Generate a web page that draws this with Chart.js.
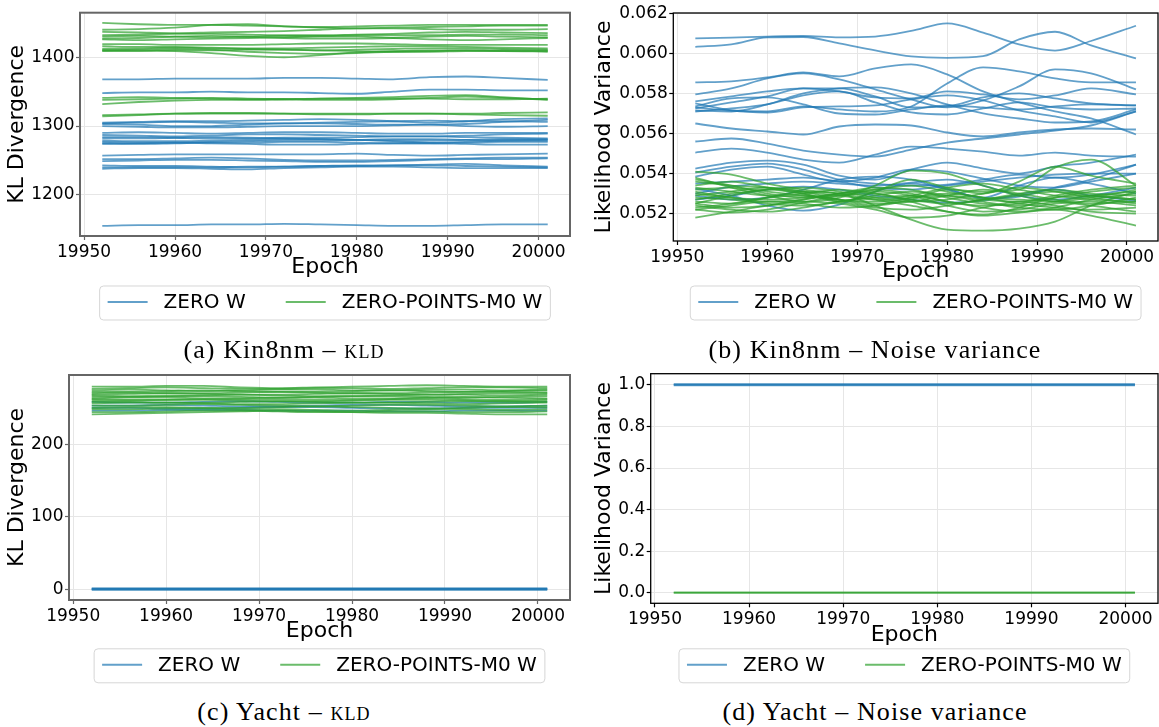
<!DOCTYPE html>
<html>
<head>
<meta charset="utf-8">
<script src="https://cdn.jsdelivr.net/npm/chart.js@4.4.1/dist/chart.umd.min.js"></script>
<style>
  html, body { margin: 0; padding: 0; background: #fff; }
  #fig { position: relative; width: 1159px; height: 727px; overflow: hidden; }
  canvas { position: absolute; }
  .cap { position: absolute; width: 560px; text-align: center; white-space: nowrap;
         font-family: "Liberation Serif", serif; font-size: 26px; letter-spacing: 1.1px;
         line-height: 27px; color: #000; }
  .sc { font-variant: small-caps; }
</style>
</head>
<body>
<div id="fig">
  <canvas id="kinKld" width="580" height="330" style="left:0px;top:0px"></canvas>
  <canvas id="kinVar" width="579" height="330" style="left:580px;top:0px"></canvas>
  <canvas id="yachtKld" width="580" height="330" style="left:0px;top:362px"></canvas>
  <canvas id="yachtVar" width="579" height="330" style="left:580px;top:362px"></canvas>
  <div class="cap" style="left:4px;top:336px">(a) Kin8nm – <span class="sc">kld</span></div>
  <div class="cap" style="left:595px;top:336px">(b) Kin8nm – Noise variance</div>
  <div class="cap" style="left:4px;top:698px">(c) Yacht – <span class="sc">kld</span></div>
  <div class="cap" style="left:595px;top:698px">(d) Yacht – Noise variance</div>
</div>
<script>
// epochs sampled along each run, and the two endpoints for runs that stay flat
const epochs = [19952, 19956, 19960, 19964, 19968, 19972, 19976, 19980, 19984, 19988, 19992, 19996, 20001];
const flatEpochs = [19952, 20001];

const seriesNames = ['ZERO W', 'ZERO-POINTS-M0 W'];

// tick labels
const epochTicks = [19950, 19960, 19970, 19980, 19990, 20000];
const kinKldTicks = [1200, 1300, 1400];
const kinVarTicks = [0.052, 0.054, 0.056, 0.058, 0.060, 0.062];
const yachtKldTicks = [0, 100, 200];
const yachtVarTicks = [0, 0.2, 0.4, 0.6, 0.8, 1.0];

// Kin8nm, KL divergence
const kinKldZero = [
  [1368, 1368, 1369, 1369, 1369, 1370, 1370, 1369, 1368, 1371, 1372, 1370, 1367],
  [1348, 1349, 1349, 1350, 1349, 1349, 1348, 1347, 1350, 1353, 1353, 1352, 1352],
  [1305, 1306, 1307, 1307, 1308, 1309, 1310, 1309, 1307, 1305, 1307, 1310, 1311],
  [1303, 1302, 1300, 1300, 1302, 1304, 1304, 1303, 1302, 1302, 1303, 1306, 1309],
  [1304, 1305, 1306, 1305, 1304, 1304, 1305, 1306, 1307, 1308, 1307, 1307, 1306],
  [1300, 1299, 1298, 1298, 1299, 1300, 1300, 1300, 1301, 1302, 1300, 1299, 1300],
  [1290, 1291, 1290, 1289, 1290, 1291, 1291, 1290, 1289, 1289, 1290, 1290, 1290],
  [1287, 1286, 1285, 1286, 1288, 1288, 1287, 1286, 1285, 1285, 1286, 1288, 1289],
  [1284, 1284, 1283, 1282, 1282, 1283, 1283, 1284, 1285, 1285, 1284, 1283, 1282],
  [1282, 1282, 1283, 1284, 1283, 1282, 1281, 1280, 1279, 1279, 1280, 1281, 1281],
  [1279, 1278, 1278, 1279, 1280, 1281, 1281, 1280, 1278, 1276, 1277, 1279, 1280],
  [1277, 1276, 1276, 1277, 1278, 1279, 1279, 1280, 1281, 1281, 1280, 1279, 1279],
  [1275, 1274, 1275, 1276, 1276, 1277, 1277, 1276, 1275, 1275, 1276, 1277, 1277],
  [1274, 1275, 1276, 1275, 1274, 1273, 1273, 1274, 1275, 1275, 1274, 1273, 1273],
  [1257, 1258, 1259, 1259, 1259, 1259, 1259, 1260, 1258, 1257, 1258, 1259, 1260],
  [1252, 1252, 1253, 1254, 1253, 1251, 1250, 1250, 1251, 1252, 1253, 1254, 1254],
  [1249, 1250, 1251, 1251, 1250, 1249, 1248, 1248, 1249, 1251, 1252, 1252, 1253],
  [1243, 1242, 1242, 1241, 1240, 1241, 1242, 1242, 1243, 1244, 1245, 1243, 1241],
  [1240, 1240, 1240, 1240, 1241, 1241, 1242, 1243, 1243, 1243, 1242, 1241, 1240],
  [1238, 1239, 1239, 1238, 1237, 1239, 1240, 1241, 1241, 1240, 1239, 1239, 1239],
  [1155, 1156, 1156, 1157, 1157, 1158, 1157, 1156, 1155, 1155, 1156, 1157, 1157]
];
const kinKldPoints = [
  [1450, 1448, 1447, 1447, 1446, 1445, 1444, 1445, 1446, 1447, 1447, 1447, 1447],
  [1440, 1441, 1443, 1447, 1448, 1445, 1443, 1442, 1443, 1444, 1445, 1446, 1446],
  [1437, 1436, 1435, 1436, 1437, 1438, 1440, 1442, 1442, 1441, 1440, 1440, 1441],
  [1432, 1433, 1434, 1434, 1433, 1432, 1432, 1433, 1434, 1436, 1437, 1436, 1435],
  [1430, 1431, 1430, 1429, 1430, 1431, 1431, 1432, 1432, 1432, 1433, 1433, 1432],
  [1427, 1428, 1430, 1431, 1430, 1428, 1427, 1427, 1428, 1430, 1431, 1430, 1429],
  [1426, 1425, 1426, 1427, 1428, 1429, 1430, 1430, 1428, 1426, 1425, 1426, 1428],
  [1419, 1419, 1418, 1418, 1418, 1419, 1420, 1420, 1419, 1418, 1418, 1418, 1418],
  [1416, 1415, 1415, 1414, 1413, 1413, 1414, 1415, 1416, 1416, 1415, 1414, 1413],
  [1412, 1413, 1414, 1413, 1412, 1411, 1410, 1411, 1412, 1413, 1413, 1412, 1411],
  [1410, 1410, 1409, 1406, 1402, 1400, 1403, 1407, 1409, 1410, 1410, 1409, 1409],
  [1410, 1411, 1412, 1411, 1408, 1406, 1405, 1406, 1408, 1409, 1410, 1410, 1410],
  [1409, 1409, 1410, 1410, 1411, 1411, 1410, 1409, 1408, 1408, 1409, 1409, 1408],
  [1341, 1342, 1341, 1340, 1339, 1339, 1340, 1341, 1342, 1344, 1345, 1342, 1338],
  [1338, 1339, 1340, 1341, 1340, 1339, 1338, 1338, 1339, 1341, 1343, 1341, 1339],
  [1332, 1335, 1337, 1338, 1338, 1339, 1340, 1340, 1340, 1340, 1339, 1339, 1340],
  [1316, 1317, 1318, 1318, 1318, 1318, 1318, 1318, 1318, 1318, 1318, 1319, 1320],
  [1314, 1316, 1318, 1319, 1319, 1318, 1317, 1317, 1318, 1318, 1317, 1316, 1315]
];

// Kin8nm, likelihood variance
const kinVarZero = [
  [0.06075, 0.06079, 0.06084, 0.06087, 0.06080, 0.06084, 0.06112, 0.06150, 0.06104, 0.06045, 0.06014, 0.06062, 0.06138],
  [0.06033, 0.06045, 0.06080, 0.06082, 0.06050, 0.06015, 0.05985, 0.05978, 0.05986, 0.06070, 0.06108, 0.06040, 0.05975],
  [0.05855, 0.05860, 0.05880, 0.05905, 0.05885, 0.05925, 0.05945, 0.05895, 0.05810, 0.05755, 0.05710, 0.05675, 0.05595],
  [0.05730, 0.05715, 0.05710, 0.05735, 0.05720, 0.05710, 0.05735, 0.05850, 0.05930, 0.05910, 0.05875, 0.05855, 0.05855],
  [0.05795, 0.05825, 0.05875, 0.05900, 0.05870, 0.05820, 0.05770, 0.05730, 0.05765, 0.05835, 0.05920, 0.05900, 0.05820],
  [0.05760, 0.05785, 0.05810, 0.05825, 0.05810, 0.05780, 0.05775, 0.05810, 0.05795, 0.05770, 0.05790, 0.05825, 0.05795],
  [0.05725, 0.05755, 0.05785, 0.05825, 0.05825, 0.05785, 0.05730, 0.05735, 0.05780, 0.05800, 0.05775, 0.05750, 0.05740],
  [0.05710, 0.05725, 0.05745, 0.05790, 0.05810, 0.05755, 0.05705, 0.05695, 0.05725, 0.05755, 0.05730, 0.05720, 0.05725],
  [0.05735, 0.05775, 0.05780, 0.05745, 0.05700, 0.05695, 0.05720, 0.05740, 0.05730, 0.05720, 0.05735, 0.05745, 0.05740],
  [0.05750, 0.05715, 0.05705, 0.05730, 0.05735, 0.05740, 0.05770, 0.05790, 0.05765, 0.05715, 0.05685, 0.05655, 0.05710],
  [0.05715, 0.05710, 0.05745, 0.05800, 0.05825, 0.05830, 0.05800, 0.05745, 0.05700, 0.05675, 0.05655, 0.05660, 0.05720],
  [0.05650, 0.05625, 0.05610, 0.05595, 0.05635, 0.05645, 0.05640, 0.05605, 0.05585, 0.05605, 0.05620, 0.05625, 0.05620],
  [0.05560, 0.05575, 0.05550, 0.05515, 0.05495, 0.05485, 0.05520, 0.05555, 0.05575, 0.05595, 0.05615, 0.05640, 0.05710],
  [0.05505, 0.05525, 0.05505, 0.05470, 0.05455, 0.05495, 0.05535, 0.05525, 0.05510, 0.05490, 0.05505, 0.05490, 0.05485],
  [0.05425, 0.05455, 0.05465, 0.05445, 0.05390, 0.05370, 0.05420, 0.05455, 0.05425, 0.05400, 0.05435, 0.05455, 0.05495],
  [0.05405, 0.05435, 0.05450, 0.05420, 0.05370, 0.05350, 0.05340, 0.05345, 0.05370, 0.05395, 0.05380, 0.05395, 0.05445],
  [0.05385, 0.05420, 0.05435, 0.05395, 0.05360, 0.05380, 0.05420, 0.05410, 0.05375, 0.05340, 0.05330, 0.05360, 0.05400],
  [0.05350, 0.05360, 0.05370, 0.05380, 0.05360, 0.05330, 0.05320, 0.05340, 0.05360, 0.05380, 0.05395, 0.05400, 0.05400],
  [0.05325, 0.05290, 0.05240, 0.05215, 0.05245, 0.05310, 0.05350, 0.05325, 0.05275, 0.05285, 0.05330, 0.05370, 0.05445],
  [0.05300, 0.05335, 0.05350, 0.05360, 0.05350, 0.05340, 0.05355, 0.05370, 0.05340, 0.05290, 0.05270, 0.05290, 0.05330],
  [0.05290, 0.05270, 0.05280, 0.05320, 0.05370, 0.05385, 0.05370, 0.05320, 0.05280, 0.05340, 0.05380, 0.05350, 0.05300],
  [0.05270, 0.05290, 0.05320, 0.05335, 0.05320, 0.05290, 0.05270, 0.05255, 0.05265, 0.05295, 0.05320, 0.05290, 0.05265]
];
const kinVarPoints = [
  [0.05410, 0.05395, 0.05350, 0.05320, 0.05300, 0.05270, 0.05240, 0.05210, 0.05190, 0.05205, 0.05220, 0.05190, 0.05140],
  [0.05380, 0.05330, 0.05290, 0.05260, 0.05280, 0.05340, 0.05415, 0.05400, 0.05340, 0.05290, 0.05260, 0.05280, 0.05320],
  [0.05340, 0.05360, 0.05330, 0.05300, 0.05260, 0.05310, 0.05370, 0.05330, 0.05300, 0.05360, 0.05435, 0.05390, 0.05350],
  [0.05290, 0.05310, 0.05330, 0.05310, 0.05270, 0.05240, 0.05270, 0.05320, 0.05310, 0.05320, 0.05430, 0.05470, 0.05340],
  [0.05260, 0.05250, 0.05280, 0.05310, 0.05300, 0.05240, 0.05170, 0.05120, 0.05115, 0.05125, 0.05160, 0.05240, 0.05310],
  [0.05220, 0.05205, 0.05220, 0.05255, 0.05290, 0.05300, 0.05260, 0.05210, 0.05195, 0.05230, 0.05280, 0.05290, 0.05270],
  [0.05180, 0.05210, 0.05240, 0.05260, 0.05250, 0.05220, 0.05180, 0.05190, 0.05230, 0.05260, 0.05240, 0.05210, 0.05200],
  [0.05370, 0.05340, 0.05300, 0.05280, 0.05290, 0.05320, 0.05340, 0.05310, 0.05280, 0.05270, 0.05260, 0.05240, 0.05210],
  [0.05230, 0.05250, 0.05280, 0.05290, 0.05270, 0.05250, 0.05260, 0.05290, 0.05320, 0.05300, 0.05270, 0.05250, 0.05260],
  [0.05250, 0.05290, 0.05320, 0.05300, 0.05260, 0.05230, 0.05220, 0.05240, 0.05270, 0.05290, 0.05310, 0.05290, 0.05270],
  [0.05310, 0.05280, 0.05260, 0.05270, 0.05300, 0.05330, 0.05320, 0.05280, 0.05250, 0.05240, 0.05260, 0.05290, 0.05310],
  [0.05280, 0.05270, 0.05250, 0.05240, 0.05260, 0.05290, 0.05310, 0.05290, 0.05260, 0.05230, 0.05220, 0.05240, 0.05280],
  [0.05330, 0.05310, 0.05290, 0.05300, 0.05320, 0.05300, 0.05270, 0.05250, 0.05270, 0.05300, 0.05320, 0.05300, 0.05290],
  [0.05240, 0.05220, 0.05210, 0.05230, 0.05260, 0.05280, 0.05290, 0.05260, 0.05230, 0.05210, 0.05230, 0.05270, 0.05300],
  [0.05270, 0.05300, 0.05320, 0.05330, 0.05310, 0.05280, 0.05260, 0.05270, 0.05300, 0.05330, 0.05310, 0.05280, 0.05250],
  [0.05300, 0.05280, 0.05270, 0.05280, 0.05300, 0.05320, 0.05300, 0.05260, 0.05240, 0.05250, 0.05280, 0.05310, 0.05330],
  [0.05220, 0.05240, 0.05260, 0.05250, 0.05230, 0.05240, 0.05280, 0.05300, 0.05280, 0.05250, 0.05230, 0.05220, 0.05230],
  [0.05360, 0.05340, 0.05330, 0.05310, 0.05290, 0.05270, 0.05290, 0.05330, 0.05350, 0.05320, 0.05290, 0.05270, 0.05260],
  [0.05250, 0.05230, 0.05240, 0.05270, 0.05300, 0.05310, 0.05290, 0.05240, 0.05210, 0.05220, 0.05250, 0.05260, 0.05240],
  [0.05320, 0.05330, 0.05310, 0.05290, 0.05270, 0.05260, 0.05280, 0.05290, 0.05270, 0.05260, 0.05290, 0.05320, 0.05340]
];

// Yacht, KL divergence
const yachtKldZero = [
  [258, 257, 257, 258, 259, 258, 257, 257, 258, 258, 257, 257, 258],
  [253, 253, 254, 253, 252, 252, 253, 254, 254, 253, 252, 252, 253],
  [250, 250, 249, 249, 250, 251, 251, 250, 249, 249, 250, 250, 250],
  [246, 246, 247, 247, 247, 246, 246, 246, 245, 245, 246, 246, 246]
];
const yachtKldZeroFlat = [[0, 0], [0.5, 0.5], [1, 1], [1.5, 1.5], [2, 2]];
const yachtKldPoints = [
  [279, 279, 280, 280, 278, 277, 278, 279, 280, 281, 280, 279, 279],
  [276, 277, 278, 277, 276, 276, 277, 277, 276, 277, 278, 278, 277],
  [274, 275, 274, 273, 274, 275, 275, 274, 274, 275, 275, 274, 275],
  [272, 272, 273, 274, 273, 272, 272, 273, 274, 273, 272, 273, 274],
  [270, 271, 270, 270, 271, 272, 271, 270, 270, 271, 272, 272, 271],
  [268, 269, 270, 269, 268, 268, 269, 270, 269, 268, 269, 270, 270],
  [267, 266, 266, 267, 268, 267, 266, 266, 267, 268, 268, 267, 268],
  [265, 265, 266, 266, 265, 264, 265, 266, 266, 265, 264, 265, 266],
  [263, 264, 264, 263, 263, 264, 264, 263, 263, 264, 265, 264, 263],
  [262, 261, 261, 262, 262, 262, 261, 261, 262, 263, 262, 261, 262],
  [260, 260, 261, 261, 260, 259, 259, 260, 261, 261, 260, 259, 260],
  [258, 258, 257, 257, 258, 259, 258, 257, 257, 258, 259, 259, 258],
  [256, 257, 257, 256, 255, 255, 256, 257, 257, 256, 255, 256, 257],
  [253, 253, 254, 255, 254, 253, 252, 253, 254, 254, 253, 252, 253],
  [250, 251, 251, 250, 250, 251, 252, 251, 250, 249, 250, 251, 251],
  [248, 248, 249, 249, 248, 248, 247, 246, 247, 248, 248, 247, 248],
  [244, 244, 245, 246, 246, 245, 244, 244, 245, 245, 244, 244, 245],
  [241, 242, 243, 244, 245, 246, 245, 244, 243, 243, 242, 241, 241]
];

// Yacht, likelihood variance
const yachtVarZero = [[0.997, 0.997], [1.0, 1.0], [1.003, 1.003]];
const yachtVarPoints = [[0, 0], [0.002, 0.002]];

const FONT = '"DejaVu Sans", sans-serif';
const BLUE = 'rgba(31, 119, 180, 0.7)';
const GREEN = 'rgba(44, 160, 44, 0.7)';
const seriesColors = [BLUE, GREEN];

function lines(xs, rows, color, order) {
  return rows.map(r => ({
    data: r.map((v, i) => ({ x: xs[i], y: v })),
    borderColor: color,
    borderWidth: 1.8,
    pointRadius: 0,
    fill: false,
    cubicInterpolationMode: 'monotone',
    order: order
  }));
}

// data limits with a 5% margin on each side
function padded(rows) {
  const all = rows.flat();
  const lo = Math.min(...all), hi = Math.max(...all);
  const m = (hi - lo) * 0.05;
  return [lo - m, hi + m];
}

// rectangle round the plot area, drawn over the lines
const axesFrame = {
  id: 'axesFrame',
  afterDraw(chart, args, opts) {
    const { ctx, chartArea: a } = chart;
    ctx.save();
    ctx.strokeStyle = opts.color;
    ctx.lineWidth = opts.width;
    ctx.strokeRect(a.left, a.top, a.right - a.left, a.bottom - a.top);
    ctx.restore();
  }
};

// two-entry legend in a rounded box, centred under the plot area
const framedLegend = {
  id: 'framedLegend',
  afterDraw(chart, args, opts) {
    const { ctx, chartArea: a } = chart;
    const fs = 20;
    const pad = 0.4 * fs, handle = 2 * fs, gap = 0.8 * fs, colGap = 2 * fs;
    ctx.save();
    ctx.font = fs + 'px ' + FONT;
    const widths = seriesNames.map(t => ctx.measureText(t).width);
    const total = 2 * pad + widths.reduce((s, w) => s + w, 0)
      + seriesNames.length * (handle + gap) + colGap * (seriesNames.length - 1);
    const x0 = (a.left + a.right) / 2 - total / 2;
    const h = 34, y0 = opts.cy - h / 2, r = 4;
    ctx.beginPath();
    ctx.moveTo(x0 + r, y0);
    ctx.arcTo(x0 + total, y0, x0 + total, y0 + h, r);
    ctx.arcTo(x0 + total, y0 + h, x0, y0 + h, r);
    ctx.arcTo(x0, y0 + h, x0, y0, r);
    ctx.arcTo(x0, y0, x0 + total, y0, r);
    ctx.closePath();
    ctx.fillStyle = 'rgba(255,255,255,0.8)';
    ctx.fill();
    ctx.strokeStyle = 'rgba(204,204,204,0.8)';
    ctx.lineWidth = 1;
    ctx.stroke();
    let x = x0 + pad;
    ctx.textBaseline = 'middle';
    ctx.textAlign = 'left';
    seriesNames.forEach((t, i) => {
      ctx.strokeStyle = seriesColors[i];
      ctx.lineWidth = 2;
      ctx.beginPath();
      ctx.moveTo(x, opts.cy - 1);
      ctx.lineTo(x + handle, opts.cy - 1);
      ctx.stroke();
      x += handle + gap;
      ctx.fillStyle = '#000';
      ctx.fillText(t, x, opts.cy);
      x += widths[i] + colGap;
    });
    ctx.restore();
  }
};

const panels = [
  {
    id: 'kinKld', box: { x: 0, y: 0, w: 580, h: 330 },
    area: { l: 80, t: 12.7, r: 570, b: 236 }, titleX: 17.5, epochY: 267.5, legendY: 303,
    yTitle: 'KL Divergence', yTicks: kinKldTicks, digits: 0, frame: '#666', frameW: 2,
    rows: [kinKldZero, kinKldPoints],
    datasets: [...lines(epochs, kinKldZero, BLUE, 1), ...lines(epochs, kinKldPoints, GREEN, 0)]
  },
  {
    id: 'kinVar', box: { x: 580, y: 0, w: 579, h: 330 },
    area: { l: 673.3, t: 13, r: 1158, b: 241 }, titleX: 604, epochY: 271.5, legendY: 303,
    yTitle: 'Likelihood Variance', yTicks: kinVarTicks, digits: 3, frame: '#000', frameW: 1.3,
    rows: [kinVarZero, kinVarPoints],
    datasets: [...lines(epochs, kinVarZero, BLUE, 1), ...lines(epochs, kinVarPoints, GREEN, 0)]
  },
  {
    id: 'yachtKld', box: { x: 0, y: 362, w: 580, h: 330 },
    area: { l: 69, t: 375, r: 570, b: 600 }, titleX: 17.5, epochY: 631.5, legendY: 665.8,
    yTitle: 'KL Divergence', yTicks: yachtKldTicks, digits: 0, frame: '#666', frameW: 2,
    rows: [yachtKldZero, yachtKldZeroFlat, yachtKldPoints],
    datasets: [...lines(epochs, yachtKldZero, BLUE, 1), ...lines(flatEpochs, yachtKldZeroFlat, BLUE, 1),
               ...lines(epochs, yachtKldPoints, GREEN, 0)]
  },
  {
    id: 'yachtVar', box: { x: 580, y: 362, w: 579, h: 330 },
    area: { l: 650.7, t: 373.3, r: 1158, b: 603.3 }, titleX: 604, epochY: 635, legendY: 665.8,
    yTitle: 'Likelihood Variance', yTicks: yachtVarTicks, digits: 1, frame: '#000', frameW: 1.3,
    rows: [yachtVarZero, yachtVarPoints],
    datasets: [...lines(flatEpochs, yachtVarZero, BLUE, 1), ...lines(flatEpochs, yachtVarPoints, GREEN, 0)]
  }
];

const [xMin, xMax] = padded([epochs]);

panels.forEach(p => {
  const titleLH = 22 * 1.2;
  const padLeft = p.titleX - p.box.x - titleLH / 2;
  const yWidth = p.area.l - p.box.x - padLeft;
  const padTop = p.area.t - p.box.y;
  const padRight = p.box.x + p.box.w - p.area.r;
  const xHeight = p.epochY - p.area.b + titleLH / 2;
  const padBottom = p.box.y + p.box.h - p.area.b - xHeight;
  const [yMin, yMax] = padded(p.rows.map(r => r.flat()));

  const tickFont = { family: FONT, size: 17 };
  const titleFont = { family: FONT, size: 22 };
  const grid = { color: '#e6e6e6', lineWidth: 1, drawTicks: true, tickLength: 4, tickColor: p.frame, tickWidth: 1.2 };

  new Chart(document.getElementById(p.id), {
    type: 'line',
    data: { datasets: p.datasets },
    options: {
      responsive: false,
      animation: false,
      devicePixelRatio: 1,
      layout: { autoPadding: false, padding: { left: padLeft, top: padTop, right: padRight, bottom: padBottom } },
      plugins: {
        legend: { display: false },
        tooltip: { enabled: false },
        axesFrame: { color: p.frame, width: p.frameW },
        framedLegend: { cy: p.legendY - p.box.y }
      },
      scales: {
        x: {
          type: 'linear', position: 'bottom', min: xMin, max: xMax, bounds: 'data',
          afterBuildTicks: s => { s.ticks = epochTicks.map(v => ({ value: v })); },
          afterFit: s => { s.height = xHeight; },
          ticks: { font: tickFont, color: '#000', padding: 2, maxRotation: 0, autoSkip: false,
                   callback: v => String(v) },
          grid: grid,
          border: { display: false },
          title: { display: true, text: 'Epoch', font: titleFont, color: '#000', padding: 0 }
        },
        y: {
          type: 'linear', position: 'left', min: yMin, max: yMax, bounds: 'data',
          afterBuildTicks: s => { s.ticks = p.yTicks.map(v => ({ value: v })); },
          afterFit: s => { s.width = yWidth; },
          ticks: { font: tickFont, color: '#000', padding: 1.5, autoSkip: false,
                   callback: v => Number(v).toFixed(p.digits) },
          grid: grid,
          border: { display: false },
          title: { display: true, text: p.yTitle, font: titleFont, color: '#000', padding: 0 }
        }
      }
    },
    plugins: [axesFrame, framedLegend]
  });
});
</script>
</body>
</html>
